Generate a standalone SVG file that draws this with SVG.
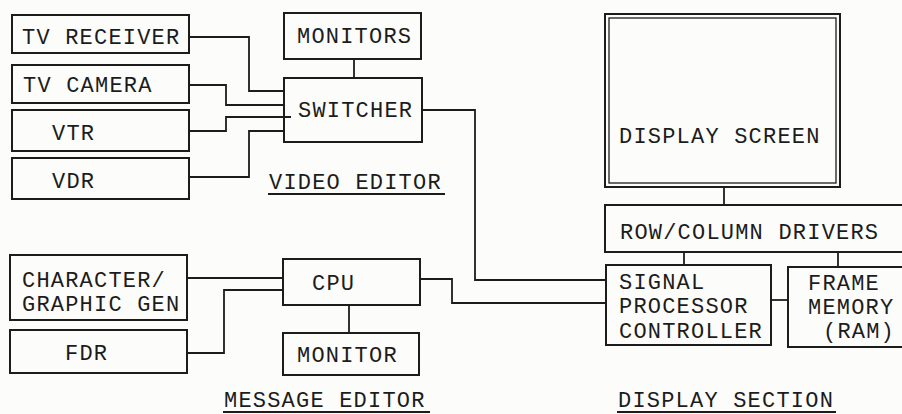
<svg xmlns="http://www.w3.org/2000/svg" width="902" height="414" viewBox="0 0 902 414">
<style>
.b{fill:none;stroke:#1c1c1c;stroke-width:2}
.c{fill:none;stroke:#1c1c1c;stroke-width:1.8}
.t{font-family:"Liberation Mono","DejaVu Sans Mono",monospace;font-size:22px;letter-spacing:1.2px;fill:#1c1c1c}
.u{stroke:#1c1c1c;stroke-width:2}
</style>
<rect width="902" height="414" fill="#fcfcfa"/>
<g id="connectors">
<path class="c" d="M189,37 H249 V91 H284"/>
<path class="c" d="M189,85 H226 V105 H284"/>
<path class="c" d="M189,131 H226 V117 H291"/>
<path class="c" d="M189,177 H249 V131 H284"/>
<path class="c" d="M354,59 V78"/>
<path class="c" d="M422,110 H475 V280 H606"/>
<path class="c" d="M420,279 H452 V303 H606"/>
<path class="c" d="M187,278 H283"/>
<path class="c" d="M187,353 H224 V290 H283"/>
<path class="c" d="M349,305 V333"/>
<path class="c" d="M724,187 V205"/>
<path class="c" d="M684,252 V265"/>
<path class="c" d="M838,252 V267"/>
<path class="c" d="M771,300 H788"/>
</g>
<g id="tv-receiver"><rect class="b" x="12" y="15" width="177" height="38"/><text class="t" x="22" y="44">TV RECEIVER</text></g>
<g id="tv-camera"><rect class="b" x="12" y="65" width="177" height="38"/><text class="t" x="23" y="92">TV CAMERA</text></g>
<g id="vtr"><rect class="b" x="12" y="110" width="177" height="41"/><text class="t" x="52" y="140">VTR</text></g>
<g id="vdr"><rect class="b" x="12" y="158" width="177" height="41"/><text class="t" x="52" y="188">VDR</text></g>
<g id="monitors"><rect class="b" x="284" y="13" width="137" height="46"/><text class="t" x="297" y="43">MONITORS</text></g>
<g id="switcher"><rect class="b" x="284" y="78" width="138" height="64"/><text class="t" x="298" y="117">SWITCHER</text></g>
<g id="video-editor"><text class="t" x="269" y="189">VIDEO EDITOR</text><line class="u" x1="268" y1="194" x2="445" y2="194"/></g>
<g id="character-gen"><rect class="b" x="10" y="255" width="177" height="65"/><text class="t" x="22" y="287">CHARACTER/</text><text class="t" x="22" y="311">GRAPHIC GEN</text></g>
<g id="fdr"><rect class="b" x="10" y="330" width="177" height="43"/><text class="t" x="65" y="360">FDR</text></g>
<g id="cpu"><rect class="b" x="283" y="259" width="137" height="46"/><text class="t" x="312" y="290">CPU</text></g>
<g id="monitor"><rect class="b" x="283" y="333" width="136" height="42"/><text class="t" x="297" y="362">MONITOR</text></g>
<g id="message-editor"><text class="t" x="224" y="407">MESSAGE EDITOR</text><line class="u" x1="223" y1="412" x2="430" y2="412"/></g>
<g id="display-screen"><rect class="b" x="605" y="14" width="235" height="173"/><rect fill="none" stroke="#1c1c1c" stroke-width="1.3" x="609" y="18" width="227" height="165"/><text class="t" x="619" y="143">DISPLAY SCREEN</text></g>
<g id="row-column-drivers"><rect class="b" x="605" y="205" width="310" height="47"/><text class="t" x="620" y="239">ROW/COLUMN DRIVERS</text></g>
<g id="signal-processor"><rect class="b" x="606" y="265" width="165" height="80"/><text class="t" x="619" y="289">SIGNAL</text><text class="t" x="619" y="313">PROCESSOR</text><text class="t" x="619" y="338">CONTROLLER</text></g>
<g id="frame-memory"><rect class="b" x="788" y="267" width="127" height="80"/><text class="t" x="808" y="290">FRAME</text><text class="t" x="808" y="314">MEMORY</text><text class="t" x="823" y="338">(RAM)</text></g>
<g id="display-section"><text class="t" x="618" y="407">DISPLAY SECTION</text><line class="u" x1="617" y1="412" x2="836" y2="412"/></g>
</svg>
